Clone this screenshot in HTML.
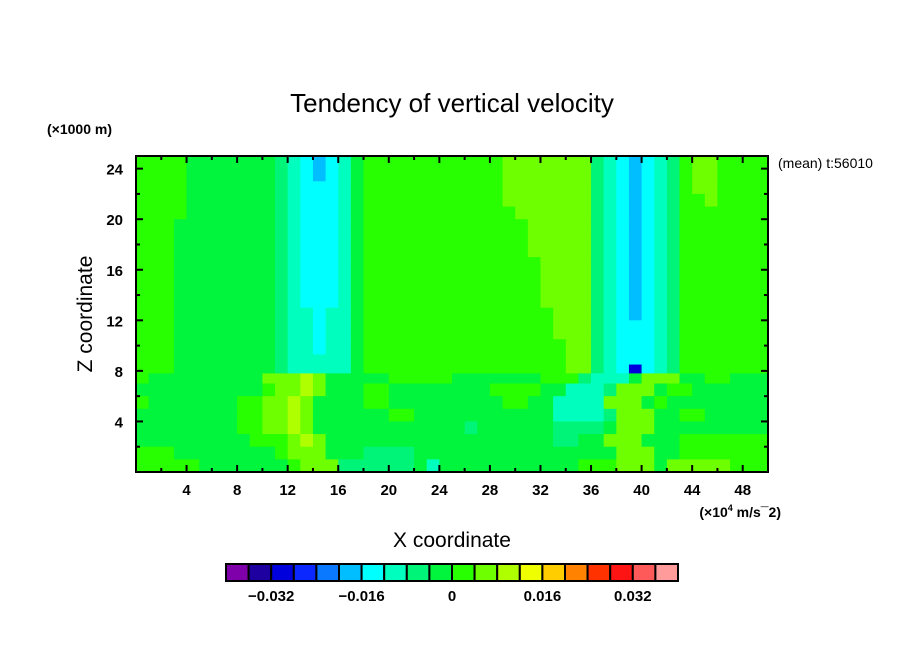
<!DOCTYPE html>
<html><head><meta charset="utf-8"><style>
body{margin:0;background:#fff;}
svg{display:block;font-family:"Liberation Sans",sans-serif;}
</style></head><body>
<svg id="chart" width="904" height="654" viewBox="0 0 904 654">
<rect width="904" height="654" fill="#fff"/>
<text x="452" y="112" text-anchor="middle" font-size="26">Tendency of vertical velocity</text>
<text x="47" y="134" font-size="14" font-weight="bold">(×1000 m)</text>
<text x="778" y="168" font-size="14">(mean) t:56010</text>
<g id="field"></g>
<g id="axes"></g>
<text x="0" y="0" transform="translate(92,314) rotate(-90)" text-anchor="middle" font-size="21">Z coordinate</text>
<text x="452" y="547" text-anchor="middle" font-size="21">X coordinate</text>
<text x="781" y="517" text-anchor="end" font-size="14" font-weight="bold">(×10<tspan font-size="9" dy="-6">4</tspan><tspan dy="6"> m/s¯2)</tspan></text>
<g id="cbar"></g>
</svg>
<script>
const levelColors=["#7f00aa","#1e00a0","#0000dc","#0a28ff","#0a78ff","#00beff","#00ffff","#00ffbe","#00f578","#00f53c","#28ff00","#6eff00","#afff00","#f0ff00","#ffcd00","#ff8200","#ff3200","#ff1414","#ff5a5a","#ff9b9b"];
const levelBounds=[-0.04,-0.036,-0.032,-0.028,-0.024,-0.02,-0.016,-0.012,-0.008,-0.004,0,0.004,0.008,0.012,0.016,0.02,0.024,0.028,0.032,0.036,0.04];
const cbarLabels=[-0.032,-0.016,0,0.016,0.032];
const xTicks=[4,8,12,16,20,24,28,32,36,40,44,48];
const yTicks=[4,8,12,16,20,24];
// rows of field (level letters A..T, run-length), top row first, with z edges
const zEdges=[25,24,23,22,21,20,18.5,17,15.5,14,13,12,10.5,9.3,8.5,7.8,7,6,5,4,3,2,1,0];
const fieldRows=[
"K4J7I1H1G1F1G1H1J1K11L7I1H1G1F1G1H1I1K1L2K4",
"K4J7I1H1G1F1G1H1J1K11L7I1H1G1F1G1H1I1K1L2K4",
"K4J7I1H1G3H1J1K11L7I1H1G1F1G1H1I1K1L2K4",
"K4J7I1H1G3H1J1K11L7I1H1G1F1G1H1I1K2L1K4",
"K4J7I1H1G3H1J1K12L6I1H1G1F1G1H1I1K7",
"K3J8I1H1G3H1J1K13L5I1H1G1F1G1H1I1K7",
"K3J8I1H1G3H1J1K13L5I1H1G1F1G1H1I1K7",
"K3J8I1H1G3H1J1K14L4I1H1G1F1G1H1I1K7",
"K3J8I1H1G3H1J1K14L4I1H1G1F1G1H1I1K7",
"K3J8I1H1G3H1J1K14L4I1H1G1F1G1H1I1K7",
"K3J8I1H2G1H2J1K15L3I1H1G1F1G1H1I1K7",
"K3J8I1H2G1H2J1K15L3I1H1G3H1I1K7",
"K3J8I1H2G1H2J1K16L2I1H1G3H1I1K7",
"K3J8I1H5J1K16L2I1H1G3H1I1K7",
"K3J8I1H5J1K16L2I1H1G1C1G1H1I1K7",
"K1J9L3M1L1J5K5J7K3I1H3J1L3J2K2J3",
"J10K1L2M1L1J3K2J8K4J2H3I1L3J1K2J6",
"K1J7K2L2M1L1J4K2J9K2J2H4L3J1K1J8",
"J8K2L1L1M1L1J6K2J8J3H4I1L3J2K2J5",
"J8K2L2M1L1J12I1J6I4J1L3J9",
"J9K3L1M1L1J18I2J2L3J3K7",
"K3J8K1L3J3I4J16L3J2K7",
"K5J7K1L3I6J1H1J11K3L3J1L5K3"
];
const X0=136,X1=768,Y0=472,Y1=156,XMIN=0,XMAX=50,ZMIN=0,ZMAX=25;
const sx=v=>X0+(v-XMIN)/(XMAX-XMIN)*(X1-X0);
const sy=v=>Y0-(v-ZMIN)/(ZMAX-ZMIN)*(Y0-Y1);
const NS="http://www.w3.org/2000/svg";
function mk(tag,attrs,parent){const e=document.createElementNS(NS,tag);for(const k in attrs)e.setAttribute(k,attrs[k]);parent.appendChild(e);return e;}
const field=document.getElementById('field');
fieldRows.forEach((row,ri)=>{
  const runs=row.match(/[A-T]\d+/g);let x=0;
  runs.forEach(r=>{
    const idx=r.charCodeAt(0)-65,n=parseInt(r.slice(1));
    const x0=sx(x),x1=sx(Math.min(x+n,50)),ya=sy(zEdges[ri]),yb=sy(zEdges[ri+1]);
    const c=mk('rect',{x:x0,y:ya,width:x1-x0+0.6,height:yb-ya+0.6,fill:levelColors[idx]},field);
    
    
    x+=n;
  });
});
const axes=document.getElementById('axes');
const fr=mk('rect',{x:X0,y:Y1,width:X1-X0,height:Y0-Y1,fill:'none',stroke:'#000','stroke-width':2},axes);


for(let v=2;v<50;v+=2){
  const maj=xTicks.includes(v),L=maj?7:4,x=sx(v);
  mk('line',{x1:x,x2:x,y1:Y0,y2:Y0-L,stroke:'#000','stroke-width':2},axes);
  mk('line',{x1:x,x2:x,y1:Y1,y2:Y1+L,stroke:'#000','stroke-width':2},axes);
}
xTicks.forEach(v=>{
  const t=mk('text',{x:sx(v),y:Y0+23,'text-anchor':'middle','font-size':15,'font-weight':'bold'},axes);
  t.textContent=v;
  
  
});
for(let v=2;v<25;v+=2){
  const maj=yTicks.includes(v),L=maj?7:4,y=sy(v);
  mk('line',{x1:X0,x2:X0+L,y1:y,y2:y,stroke:'#000','stroke-width':2},axes);
  mk('line',{x1:X1,x2:X1-L,y1:y,y2:y,stroke:'#000','stroke-width':2},axes);
}
yTicks.forEach(v=>{
  const t=mk('text',{x:X0-13,y:sy(v)+6,'text-anchor':'end','font-size':15,'font-weight':'bold'},axes);
  t.textContent=v;
  
  
});
const cb=document.getElementById('cbar');
const CB0=226,CB1=678,CBY=564,CBH=17,nb=levelColors.length;
const cx=v=>CB0+(v-levelBounds[0])/(levelBounds[nb]-levelBounds[0])*(CB1-CB0);
levelColors.forEach((c,i)=>{
  const r=mk('rect',{x:cx(levelBounds[i]),y:CBY,width:cx(levelBounds[i+1])-cx(levelBounds[i]),height:CBH,fill:c,stroke:'#000','stroke-width':2},cb);
  
  
});
cbarLabels.forEach(v=>{
  const t=mk('text',{x:cx(v),y:CBY+CBH+20,'text-anchor':'middle','font-size':15,'font-weight':'bold'},cb);
  t.textContent=v===0?'0':(v<0?'−':'')+Math.abs(v).toFixed(3);
  
  
});
</script>
</body></html>
